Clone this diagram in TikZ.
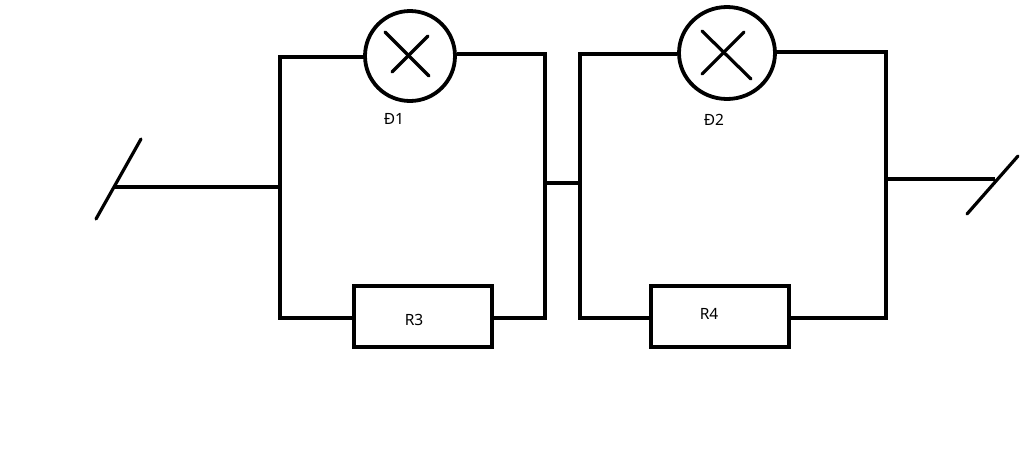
\documentclass[tikz,border=0pt]{standalone}
\usepackage{fontspec}
\setmainfont{Noto Sans}
\usetikzlibrary{shapes.geometric}
\tikzset{
	wire/.style={line width=3.2pt},
	lamp/.style={ellipse, draw, line width=3.8pt, fill=white, inner sep=0pt},
	resistor/.style={rectangle, draw, line width=4pt, fill=white, minimum width=138pt, minimum height=61pt, inner sep=0pt},
	lbl/.style={font=\fontsize{15.5pt}{18pt}\selectfont, inner sep=0pt},
}
\begin{document}
\begin{tikzpicture}[x=1pt, y=-1pt, line join=miter]
	\useasboundingbox (0,0) rectangle (1024,472);
	% lamps and resistors
	\node[lamp, minimum width=90pt, minimum height=90pt] (lampA) at (410,56) {};
	\node[lamp, minimum width=96pt, minimum height=92pt] (lampB) at (727,53) {};
	\node[resistor] (resA) at (423,316.5) {};
	\node[resistor] (resB) at (720,316.5) {};
	% crosses in the lamps
	\draw[wire, line cap=round] (385,32) -- (429,76);
	\draw[wire, line cap=round] (428,36) -- (392,72);
	\draw[wire, line cap=round] (702,31) -- (751,79);
	\draw[wire, line cap=round] (744,32) -- (702,74);
	% left loop
	\draw[wire] (lampA.west |- 0,57) -- (280,57) -- (280,318) -- (resA.west |- 0,318);
	\draw[wire] (resA.east |- 0,318) -- (545,318) -- (545,54) -- (lampA.east |- 0,54);
	% right loop
	\draw[wire] (lampB.west |- 0,54) -- (580,54) -- (580,318) -- (resB.west |- 0,318);
	\draw[wire] (resB.east |- 0,318) -- (886,318) -- (886,52) -- (lampB.east |- 0,52);
	% between the loops
	\coordinate (jr1) at (545,183);
	\coordinate (jl2) at (580,183);
	\draw[wire] (jr1) -- (jl2);
	% terminals
	\coordinate (jl1) at (280,187);
	\coordinate (jr2) at (886,179);
	\coordinate (termA) at (115,187);
	\coordinate (termB) at (995,179);
	\draw[wire] (termA) -- (jl1);
	\draw[wire] (jr2) -- (termB);
	\draw[wire, line cap=round] (141,139) -- (96,219);
	\draw[wire, line cap=round] (1018,156) -- (967,214);
	% labels
	\node[lbl] (lblA) at (394,119) {Đ1};
	\node[lbl] (lblB) at (714,120) {Đ2};
	\node[lbl] (lblC) at (414,320) {R3};
	\node[lbl] (lblD) at (709,314) {R4};
\end{tikzpicture}
\end{document}
